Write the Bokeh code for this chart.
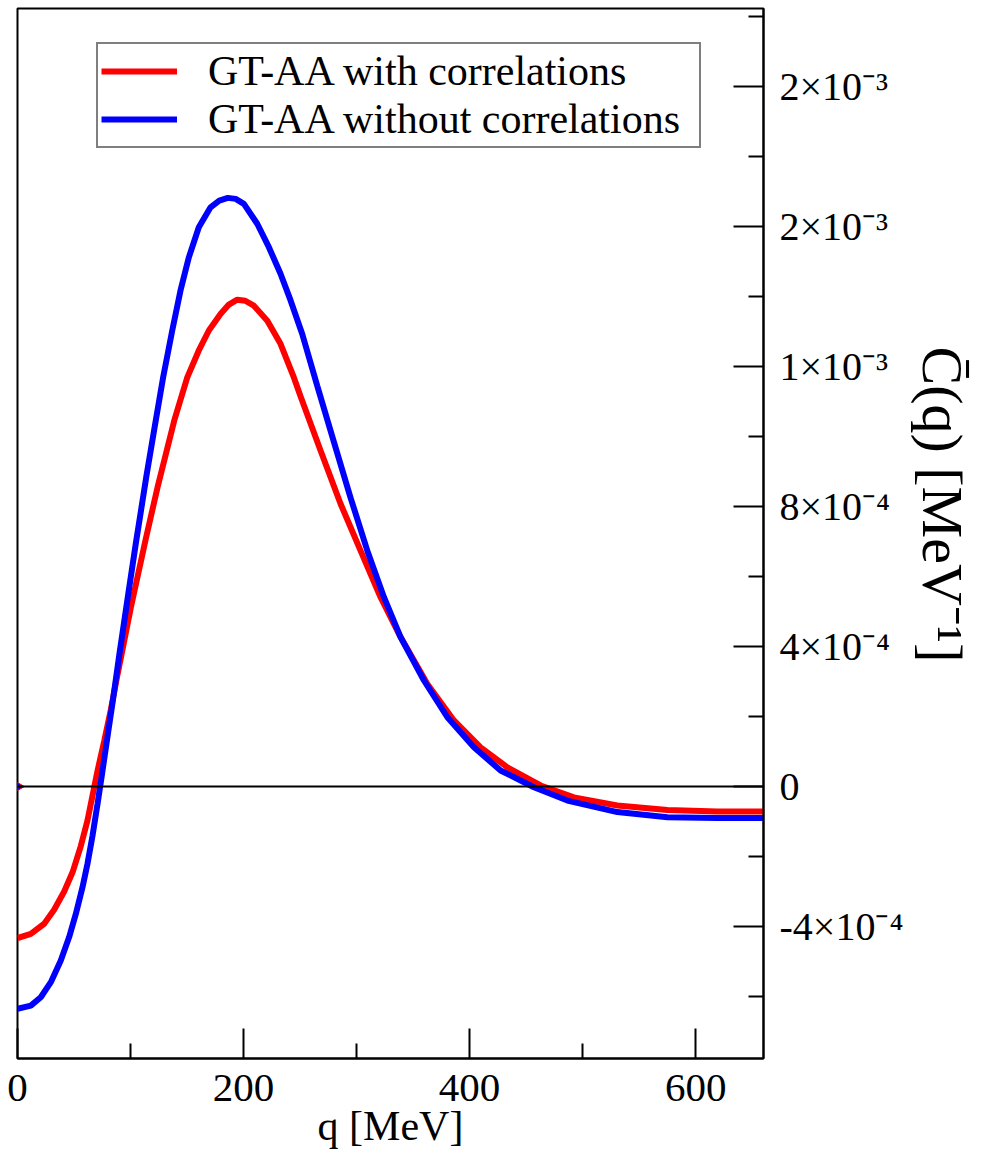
import math
from bokeh.plotting import figure
from bokeh.models import Range1d, FixedTicker, Span, Legend, LegendItem
from bokeh.embed import file_html
from bokeh.resources import INLINE

# q in MeV, C(q) in units of 1e-4 MeV^-1
q_with = [0, 11.8, 23.6, 32.4, 41.3, 48.7, 56, 61.9, 66.4, 70.8, 76.7, 82.6, 88.5,
          100.3, 113.3, 123.9, 138.7, 150.2, 160.4, 169.3, 179.6, 187, 194.4, 201.5,
          209.1, 221, 232.7, 244.5, 250.4, 268.1, 285.8, 303.5, 321.2, 338.9, 362.6,
          386.1, 409.7, 433.4, 462.8, 492.3, 530.7, 575, 619.2, 660]
c_with = [-4.33, -4.21, -3.92, -3.52, -3.0, -2.45, -1.7, -0.97, -0.25, 0.45, 1.3, 2.2, 3.2,
          5.12, 7.05, 8.55, 10.46, 11.69, 12.46, 13.03, 13.5, 13.77, 13.91, 13.88,
          13.74, 13.31, 12.65, 11.69, 11.15, 9.6, 8.08, 6.74, 5.41, 4.27, 2.93,
          1.89, 1.12, 0.55, 0.03, -0.31, -0.54, -0.67, -0.71, -0.71]

q_without = [0, 11.8, 20.6, 29.5, 38.3, 45.7, 51.6, 57.5, 61.9, 66.4, 70.8, 75.2, 79.6,
             84.1, 90, 97.3, 104.7, 114.2, 121.5, 128.9, 136.9, 144.2, 151.6, 160.4,
             170.8, 178.5, 186.1, 193, 200.3, 212.1, 222.4, 232.7, 241.6, 251.9, 265.2,
             279.9, 294.7, 309.5, 324.2, 338.9, 359.6, 380.3, 403.8, 427.4, 456.9,
             486.5, 530.7, 575, 619.2, 660]
c_without = [-6.35, -6.26, -6.02, -5.59, -4.97, -4.3, -3.64, -2.88, -2.21, -1.4, -0.5,
             0.45, 1.42, 2.4, 3.75, 5.35, 6.95, 8.9, 10.3, 11.7, 13.03, 14.17, 15.12,
             15.98, 16.55, 16.74, 16.82, 16.79, 16.65, 16.08, 15.41, 14.65, 13.89, 12.93,
             11.45, 9.85, 8.25, 6.74, 5.41, 4.27, 3.03, 1.98, 1.12, 0.46, -0.02, -0.4,
             -0.73, -0.88, -0.9, -0.9]

origin_q = [0]
origin_c = [0]

x_major = [0, 200, 400, 600]
x_minor = [100, 300, 500]
y_major = [-4, 0, 4, 8, 12, 16, 20]
y_minor = [-6, -2, 2, 6, 10, 14, 18, 22]
y_labels = ["-4×10⁻⁴", "0", "4×10⁻⁴", "8×10⁻⁴", "1×10⁻³", "2×10⁻³", "2×10⁻³"]

legend_labels = ["GT-AA with correlations", "GT-AA without correlations"]
x_title = "q [MeV]"
y_title = "C\u0304(q) [MeV\u207B\u00B9]" + "\u00A0" * 4

FONT = "Liberation Serif"

p = figure(width=978, height=1157, x_range=Range1d(0, 660), y_range=Range1d(-7.77, 22.23),
           y_axis_location="right", output_backend="svg", toolbar_location=None,
           min_border_left=17, min_border_right=215, min_border_top=8, min_border_bottom=99)
p.title.visible = False
p.grid.visible = False
p.outline_line_color = "black"
p.outline_line_width = 2
p.background_fill_color = "white"
p.border_fill_color = "white"

for ax in (p.xaxis[0], p.yaxis[0]):
    ax.axis_line_width = 2
    ax.axis_line_color = "black"
    ax.major_tick_in = 30
    ax.major_tick_out = 0
    ax.minor_tick_in = 15
    ax.minor_tick_out = 0
    ax.major_tick_line_width = 2
    ax.minor_tick_line_width = 2
    ax.major_tick_line_color = "black"
    ax.minor_tick_line_color = "black"
    ax.major_label_text_font = FONT
    ax.major_label_text_color = "black"
    ax.axis_label_text_font = FONT
    ax.axis_label_text_font_style = "normal"
    ax.axis_label_text_color = "black"

xa = p.xaxis[0]
xa.ticker = FixedTicker(ticks=x_major, minor_ticks=x_minor)
xa.major_label_text_font_size = "41px"
xa.major_label_standoff = 16
xa.axis_label = x_title
xa.axis_label_text_font_size = "42px"
xa.axis_label_standoff = -1

ya = p.yaxis[0]
ya.ticker = FixedTicker(ticks=y_major, minor_ticks=y_minor)
ya.major_label_overrides = {t: s for t, s in zip(y_major, y_labels)}
ya.major_label_text_font_size = "40px"
ya.major_label_standoff = 16
ya.axis_label = y_title
ya.axis_label_text_font_size = "58px"
ya.axis_label_standoff = 4

p.add_layout(Span(location=0, dimension="width", line_color="black", line_width=2))

r_with = p.line(q_with, c_with, line_color="#ff0000", line_width=6)
r_without = p.line(q_without, c_without, line_color="#0000ff", line_width=6)
p.scatter(origin_q, origin_c, marker="triangle", angle=-math.pi / 2, size=12,
          color="#ff0000")
p.scatter(origin_q, origin_c, marker="triangle", angle=-math.pi / 2, size=9,
          color="#0000ff")

legend = Legend(items=[LegendItem(label=legend_labels[0], renderers=[r_with]),
                       LegendItem(label=legend_labels[1], renderers=[r_without])],
                location=(79, 910), padding=3, spacing=-10, margin=0,
                glyph_width=76, glyph_height=44, label_height=44, label_standoff=31,
                label_width=488, label_text_font=FONT, label_text_font_size="42px",
                label_text_baseline="middle", label_text_color="black",
                border_line_color="black", border_line_width=2,
                background_fill_color="white", background_fill_alpha=1)
p.add_layout(legend)

open("out.html", "w").write(file_html(p, INLINE))
